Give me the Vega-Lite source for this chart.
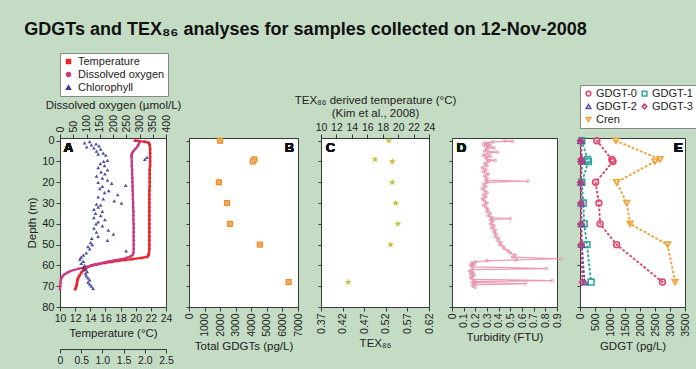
{
  "$schema": "https://vega.github.io/schema/vega-lite/v6.json",
  "background": "#c4dcc4",
  "padding": {"left": 24, "top": 21, "right": 4, "bottom": 0},
  "title": {"text": "GDGTs and TEX₈₆ analyses for samples collected on 12-Nov-2008", "anchor": "start", "font": "Liberation Sans", "fontSize": 18, "fontWeight": "bold", "color": "#111", "offset": 13, "dx": -2},
  "config": {
    "font": "Liberation Sans",
    "view": {"fill": "white", "stroke": "#3a3a3a", "strokeWidth": 1},
    "axis": {"domainColor": "#3a3a3a", "tickColor": "#3a3a3a", "labelColor": "#222", "titleColor": "#222", "labelFontSize": 10.5, "titleFontSize": 11.5, "titleFontWeight": "normal", "grid": false, "tickSize": 4, "labelPadding": 2, "titlePadding": 4, "labelOverlap": false, "labelBound": false, "labelFlush": false},
    "legend": {"labelFontSize": 10.5, "labelColor": "#222", "fillColor": "white", "strokeColor": "#888", "padding": 4, "rowPadding": 1, "symbolStrokeWidth": 1.5}
  },
  "bounds": "flush",
  "spacing": 23,
  "resolve": {"scale": {"color": "independent", "shape": "independent"}, "legend": {"color": "independent", "shape": "independent"}},
  "datasets": {
    "A": [
      {"series": "Temperature", "depth": 0, "value": 19.9},
      {"series": "Temperature", "depth": 0.5, "value": 21.2},
      {"series": "Temperature", "depth": 1, "value": 21.7},
      {"series": "Temperature", "depth": 2, "value": 21.85},
      {"series": "Temperature", "depth": 4, "value": 21.9},
      {"series": "Temperature", "depth": 6, "value": 21.9},
      {"series": "Temperature", "depth": 8, "value": 21.9},
      {"series": "Temperature", "depth": 10, "value": 21.9},
      {"series": "Temperature", "depth": 12, "value": 21.9},
      {"series": "Temperature", "depth": 14, "value": 21.85},
      {"series": "Temperature", "depth": 16, "value": 21.85},
      {"series": "Temperature", "depth": 18, "value": 21.85},
      {"series": "Temperature", "depth": 20, "value": 21.85},
      {"series": "Temperature", "depth": 22, "value": 21.85},
      {"series": "Temperature", "depth": 24, "value": 21.8},
      {"series": "Temperature", "depth": 26, "value": 21.8},
      {"series": "Temperature", "depth": 28, "value": 21.8},
      {"series": "Temperature", "depth": 30, "value": 21.8},
      {"series": "Temperature", "depth": 32, "value": 21.8},
      {"series": "Temperature", "depth": 34, "value": 21.8},
      {"series": "Temperature", "depth": 36, "value": 21.8},
      {"series": "Temperature", "depth": 38, "value": 21.8},
      {"series": "Temperature", "depth": 40, "value": 21.8},
      {"series": "Temperature", "depth": 42, "value": 21.8},
      {"series": "Temperature", "depth": 44, "value": 21.8},
      {"series": "Temperature", "depth": 46, "value": 21.8},
      {"series": "Temperature", "depth": 48, "value": 21.8},
      {"series": "Temperature", "depth": 50, "value": 21.8},
      {"series": "Temperature", "depth": 52, "value": 21.8},
      {"series": "Temperature", "depth": 54, "value": 21.75},
      {"series": "Temperature", "depth": 55, "value": 21.7},
      {"series": "Temperature", "depth": 55.9, "value": 21.5},
      {"series": "Temperature", "depth": 56.4, "value": 20.8},
      {"series": "Temperature", "depth": 57, "value": 19.5},
      {"series": "Temperature", "depth": 57.4, "value": 18.6},
      {"series": "Temperature", "depth": 57.8, "value": 17.7},
      {"series": "Temperature", "depth": 58.3, "value": 16.8},
      {"series": "Temperature", "depth": 58.8, "value": 16.0},
      {"series": "Temperature", "depth": 59.2, "value": 15.2},
      {"series": "Temperature", "depth": 59.6, "value": 14.6},
      {"series": "Temperature", "depth": 60.1, "value": 14.1},
      {"series": "Temperature", "depth": 60.7, "value": 13.7},
      {"series": "Temperature", "depth": 61.5, "value": 13.4},
      {"series": "Temperature", "depth": 62.3, "value": 13.1},
      {"series": "Temperature", "depth": 63.5, "value": 12.8},
      {"series": "Temperature", "depth": 64.7, "value": 12.6},
      {"series": "Temperature", "depth": 66, "value": 12.4},
      {"series": "Temperature", "depth": 67.1, "value": 12.3},
      {"series": "Temperature", "depth": 68.3, "value": 12.25},
      {"series": "Temperature", "depth": 69.5, "value": 12.2},
      {"series": "Temperature", "depth": 70.5, "value": 12.1},
      {"series": "Temperature", "depth": 71.5, "value": 12.0},
      {"series": "Dissolved oxygen", "depth": 0, "value": 296},
      {"series": "Dissolved oxygen", "depth": 0.5, "value": 300},
      {"series": "Dissolved oxygen", "depth": 1, "value": 299},
      {"series": "Dissolved oxygen", "depth": 2, "value": 296},
      {"series": "Dissolved oxygen", "depth": 3, "value": 291},
      {"series": "Dissolved oxygen", "depth": 4, "value": 284},
      {"series": "Dissolved oxygen", "depth": 5, "value": 277},
      {"series": "Dissolved oxygen", "depth": 6, "value": 272},
      {"series": "Dissolved oxygen", "depth": 7, "value": 270},
      {"series": "Dissolved oxygen", "depth": 8, "value": 270},
      {"series": "Dissolved oxygen", "depth": 10, "value": 271},
      {"series": "Dissolved oxygen", "depth": 12, "value": 271},
      {"series": "Dissolved oxygen", "depth": 14, "value": 272},
      {"series": "Dissolved oxygen", "depth": 16, "value": 272},
      {"series": "Dissolved oxygen", "depth": 18, "value": 273},
      {"series": "Dissolved oxygen", "depth": 20, "value": 273},
      {"series": "Dissolved oxygen", "depth": 22, "value": 274},
      {"series": "Dissolved oxygen", "depth": 24, "value": 274},
      {"series": "Dissolved oxygen", "depth": 26, "value": 275},
      {"series": "Dissolved oxygen", "depth": 28, "value": 275},
      {"series": "Dissolved oxygen", "depth": 30, "value": 276},
      {"series": "Dissolved oxygen", "depth": 32, "value": 276},
      {"series": "Dissolved oxygen", "depth": 34, "value": 277},
      {"series": "Dissolved oxygen", "depth": 36, "value": 277},
      {"series": "Dissolved oxygen", "depth": 38, "value": 277},
      {"series": "Dissolved oxygen", "depth": 40, "value": 278},
      {"series": "Dissolved oxygen", "depth": 42, "value": 278},
      {"series": "Dissolved oxygen", "depth": 44, "value": 278},
      {"series": "Dissolved oxygen", "depth": 46, "value": 278},
      {"series": "Dissolved oxygen", "depth": 48, "value": 278},
      {"series": "Dissolved oxygen", "depth": 50, "value": 278},
      {"series": "Dissolved oxygen", "depth": 52, "value": 278},
      {"series": "Dissolved oxygen", "depth": 54, "value": 277},
      {"series": "Dissolved oxygen", "depth": 55, "value": 274},
      {"series": "Dissolved oxygen", "depth": 55.7, "value": 266},
      {"series": "Dissolved oxygen", "depth": 56.3, "value": 252},
      {"series": "Dissolved oxygen", "depth": 57, "value": 232},
      {"series": "Dissolved oxygen", "depth": 57.6, "value": 205},
      {"series": "Dissolved oxygen", "depth": 58.2, "value": 182},
      {"series": "Dissolved oxygen", "depth": 58.8, "value": 162},
      {"series": "Dissolved oxygen", "depth": 59.5, "value": 142},
      {"series": "Dissolved oxygen", "depth": 60.2, "value": 118},
      {"series": "Dissolved oxygen", "depth": 61, "value": 92},
      {"series": "Dissolved oxygen", "depth": 61.6, "value": 70},
      {"series": "Dissolved oxygen", "depth": 62.2, "value": 53},
      {"series": "Dissolved oxygen", "depth": 62.8, "value": 38},
      {"series": "Dissolved oxygen", "depth": 63.5, "value": 27},
      {"series": "Dissolved oxygen", "depth": 64.3, "value": 17},
      {"series": "Dissolved oxygen", "depth": 65, "value": 11},
      {"series": "Dissolved oxygen", "depth": 66, "value": 6},
      {"series": "Dissolved oxygen", "depth": 67, "value": 3},
      {"series": "Dissolved oxygen", "depth": 68.5, "value": 2},
      {"series": "Dissolved oxygen", "depth": 70, "value": 1},
      {"series": "Dissolved oxygen", "depth": 71.5, "value": 0},
      {"series": "Chlorophyll", "depth": 0.5, "value": 0.7},
      {"series": "Chlorophyll", "depth": 1, "value": 0.58},
      {"series": "Chlorophyll", "depth": 1.5, "value": 0.85},
      {"series": "Chlorophyll", "depth": 2, "value": 0.74},
      {"series": "Chlorophyll", "depth": 2.5, "value": 0.92},
      {"series": "Chlorophyll", "depth": 3, "value": 0.63},
      {"series": "Chlorophyll", "depth": 3.5, "value": 0.8},
      {"series": "Chlorophyll", "depth": 4, "value": 0.96},
      {"series": "Chlorophyll", "depth": 5, "value": 0.86},
      {"series": "Chlorophyll", "depth": 6, "value": 1.02},
      {"series": "Chlorophyll", "depth": 6.5, "value": 0.9},
      {"series": "Chlorophyll", "depth": 7, "value": 1.08},
      {"series": "Chlorophyll", "depth": 8, "value": 2.05},
      {"series": "Chlorophyll", "depth": 9, "value": 2.0},
      {"series": "Chlorophyll", "depth": 9.5, "value": 1.12},
      {"series": "Chlorophyll", "depth": 10, "value": 1.03},
      {"series": "Chlorophyll", "depth": 11, "value": 0.95},
      {"series": "Chlorophyll", "depth": 12, "value": 1.05},
      {"series": "Chlorophyll", "depth": 13, "value": 0.9},
      {"series": "Chlorophyll", "depth": 14, "value": 1.12},
      {"series": "Chlorophyll", "depth": 15, "value": 0.97},
      {"series": "Chlorophyll", "depth": 16, "value": 1.06},
      {"series": "Chlorophyll", "depth": 17, "value": 0.86},
      {"series": "Chlorophyll", "depth": 18, "value": 1.0},
      {"series": "Chlorophyll", "depth": 19, "value": 1.12},
      {"series": "Chlorophyll", "depth": 20, "value": 0.9},
      {"series": "Chlorophyll", "depth": 20.5, "value": 1.22},
      {"series": "Chlorophyll", "depth": 21.5, "value": 1.55},
      {"series": "Chlorophyll", "depth": 22, "value": 1.0},
      {"series": "Chlorophyll", "depth": 23, "value": 0.94},
      {"series": "Chlorophyll", "depth": 24, "value": 1.15},
      {"series": "Chlorophyll", "depth": 25, "value": 1.05},
      {"series": "Chlorophyll", "depth": 26, "value": 1.36},
      {"series": "Chlorophyll", "depth": 27, "value": 0.9},
      {"series": "Chlorophyll", "depth": 28, "value": 1.02},
      {"series": "Chlorophyll", "depth": 29, "value": 1.28},
      {"series": "Chlorophyll", "depth": 30, "value": 1.45},
      {"series": "Chlorophyll", "depth": 30.5, "value": 0.86},
      {"series": "Chlorophyll", "depth": 31, "value": 0.96},
      {"series": "Chlorophyll", "depth": 32, "value": 0.9},
      {"series": "Chlorophyll", "depth": 33, "value": 0.8},
      {"series": "Chlorophyll", "depth": 34, "value": 1.0},
      {"series": "Chlorophyll", "depth": 35, "value": 0.84},
      {"series": "Chlorophyll", "depth": 36, "value": 0.96},
      {"series": "Chlorophyll", "depth": 37, "value": 0.8},
      {"series": "Chlorophyll", "depth": 38, "value": 1.06},
      {"series": "Chlorophyll", "depth": 39, "value": 0.9},
      {"series": "Chlorophyll", "depth": 40, "value": 0.85},
      {"series": "Chlorophyll", "depth": 41, "value": 1.0},
      {"series": "Chlorophyll", "depth": 42, "value": 0.8},
      {"series": "Chlorophyll", "depth": 43, "value": 1.14},
      {"series": "Chlorophyll", "depth": 44, "value": 0.86},
      {"series": "Chlorophyll", "depth": 45, "value": 1.26},
      {"series": "Chlorophyll", "depth": 46, "value": 0.9},
      {"series": "Chlorophyll", "depth": 47, "value": 0.75},
      {"series": "Chlorophyll", "depth": 48, "value": 1.12},
      {"series": "Chlorophyll", "depth": 49, "value": 0.72},
      {"series": "Chlorophyll", "depth": 50, "value": 0.76},
      {"series": "Chlorophyll", "depth": 51, "value": 0.66},
      {"series": "Chlorophyll", "depth": 52, "value": 0.7},
      {"series": "Chlorophyll", "depth": 53, "value": 1.56},
      {"series": "Chlorophyll", "depth": 54, "value": 0.62},
      {"series": "Chlorophyll", "depth": 55, "value": 0.55},
      {"series": "Chlorophyll", "depth": 56, "value": 0.5},
      {"series": "Chlorophyll", "depth": 57, "value": 0.47},
      {"series": "Chlorophyll", "depth": 58, "value": 0.55},
      {"series": "Chlorophyll", "depth": 59, "value": 0.5},
      {"series": "Chlorophyll", "depth": 60, "value": 0.58},
      {"series": "Chlorophyll", "depth": 61, "value": 0.55},
      {"series": "Chlorophyll", "depth": 62, "value": 0.6},
      {"series": "Chlorophyll", "depth": 63, "value": 0.64},
      {"series": "Chlorophyll", "depth": 64, "value": 0.6},
      {"series": "Chlorophyll", "depth": 65, "value": 0.62},
      {"series": "Chlorophyll", "depth": 66, "value": 0.66},
      {"series": "Chlorophyll", "depth": 67, "value": 0.7},
      {"series": "Chlorophyll", "depth": 68, "value": 0.66},
      {"series": "Chlorophyll", "depth": 69, "value": 0.7},
      {"series": "Chlorophyll", "depth": 70, "value": 0.74},
      {"series": "Chlorophyll", "depth": 71, "value": 0.78}
    ],
    "B": [
      {"depth": 0, "gdgt": 2000},
      {"depth": 9, "gdgt": 4200},
      {"depth": 10, "gdgt": 4100},
      {"depth": 20, "gdgt": 1920},
      {"depth": 30, "gdgt": 2440},
      {"depth": 40, "gdgt": 2630},
      {"depth": 50, "gdgt": 4550},
      {"depth": 68, "gdgt": 6400}
    ],
    "C": [
      {"depth": 0, "tex": 0.527},
      {"depth": 9, "tex": 0.495},
      {"depth": 10, "tex": 0.535},
      {"depth": 20, "tex": 0.535},
      {"depth": 30, "tex": 0.543},
      {"depth": 40, "tex": 0.548},
      {"depth": 50, "tex": 0.531},
      {"depth": 68, "tex": 0.433}
    ],
    "D": [
      {"depth": 0, "turb": 0.45}, {"depth": 0.3, "turb": 0.52}, {"depth": 0.6, "turb": 0.35},
      {"depth": 1, "turb": 0.28}, {"depth": 1.5, "turb": 0.32}, {"depth": 2, "turb": 0.27},
      {"depth": 2.5, "turb": 0.33}, {"depth": 3, "turb": 0.29}, {"depth": 3.5, "turb": 0.36},
      {"depth": 4, "turb": 0.3}, {"depth": 5, "turb": 0.28}, {"depth": 5.5, "turb": 0.39},
      {"depth": 6, "turb": 0.31}, {"depth": 7, "turb": 0.27}, {"depth": 7.5, "turb": 0.33},
      {"depth": 8, "turb": 0.29}, {"depth": 9, "turb": 0.3}, {"depth": 9.5, "turb": 0.37},
      {"depth": 10, "turb": 0.31}, {"depth": 11, "turb": 0.28}, {"depth": 12, "turb": 0.3},
      {"depth": 13, "turb": 0.26}, {"depth": 14, "turb": 0.29}, {"depth": 15, "turb": 0.27},
      {"depth": 16, "turb": 0.31}, {"depth": 17, "turb": 0.28}, {"depth": 18, "turb": 0.3},
      {"depth": 19, "turb": 0.29}, {"depth": 19.5, "turb": 0.65}, {"depth": 20, "turb": 0.3},
      {"depth": 21, "turb": 0.27}, {"depth": 22, "turb": 0.29}, {"depth": 23, "turb": 0.26},
      {"depth": 24, "turb": 0.28}, {"depth": 25, "turb": 0.3}, {"depth": 26, "turb": 0.27},
      {"depth": 27, "turb": 0.29}, {"depth": 28, "turb": 0.26}, {"depth": 29, "turb": 0.28},
      {"depth": 30, "turb": 0.3}, {"depth": 31, "turb": 0.27}, {"depth": 32, "turb": 0.29},
      {"depth": 33, "turb": 0.31}, {"depth": 34, "turb": 0.3}, {"depth": 35, "turb": 0.33},
      {"depth": 36, "turb": 0.31}, {"depth": 37, "turb": 0.34}, {"depth": 37.5, "turb": 0.5},
      {"depth": 38, "turb": 0.33}, {"depth": 39, "turb": 0.35}, {"depth": 40, "turb": 0.33},
      {"depth": 41, "turb": 0.36}, {"depth": 42, "turb": 0.34}, {"depth": 43, "turb": 0.37},
      {"depth": 44, "turb": 0.36}, {"depth": 45, "turb": 0.38}, {"depth": 46, "turb": 0.37},
      {"depth": 47, "turb": 0.4}, {"depth": 48, "turb": 0.39}, {"depth": 49, "turb": 0.42},
      {"depth": 50, "turb": 0.41}, {"depth": 51, "turb": 0.44}, {"depth": 52, "turb": 0.45},
      {"depth": 53, "turb": 0.48}, {"depth": 54, "turb": 0.5}, {"depth": 55, "turb": 0.54},
      {"depth": 56, "turb": 0.52}, {"depth": 56.8, "turb": 0.93}, {"depth": 57.3, "turb": 0.55},
      {"depth": 57.8, "turb": 0.3}, {"depth": 58.3, "turb": 0.2}, {"depth": 58.8, "turb": 0.17},
      {"depth": 59.4, "turb": 0.19}, {"depth": 60, "turb": 0.16}, {"depth": 60.7, "turb": 0.18},
      {"depth": 61.5, "turb": 0.81}, {"depth": 62, "turb": 0.17}, {"depth": 62.7, "turb": 0.15},
      {"depth": 63.4, "turb": 0.18}, {"depth": 64, "turb": 0.16}, {"depth": 64.7, "turb": 0.19},
      {"depth": 65.3, "turb": 0.17}, {"depth": 66, "turb": 0.16}, {"depth": 66.7, "turb": 0.18},
      {"depth": 67.3, "turb": 0.86}, {"depth": 67.8, "turb": 0.2}, {"depth": 68.3, "turb": 0.17},
      {"depth": 68.8, "turb": 0.63}, {"depth": 69.3, "turb": 0.19}, {"depth": 69.9, "turb": 0.18},
      {"depth": 70.5, "turb": 0.2}
    ],
    "E": [
      {"series": "GDGT-0", "depth": 0, "value": 560},
      {"series": "GDGT-0", "depth": 9, "value": 1060},
      {"series": "GDGT-0", "depth": 10, "value": 1100},
      {"series": "GDGT-0", "depth": 20, "value": 520},
      {"series": "GDGT-0", "depth": 30, "value": 630},
      {"series": "GDGT-0", "depth": 40, "value": 670},
      {"series": "GDGT-0", "depth": 50, "value": 1220},
      {"series": "GDGT-0", "depth": 68, "value": 2750},
      {"series": "GDGT-1", "depth": 0, "value": 60},
      {"series": "GDGT-1", "depth": 9, "value": 250},
      {"series": "GDGT-1", "depth": 10, "value": 280},
      {"series": "GDGT-1", "depth": 20, "value": 60},
      {"series": "GDGT-1", "depth": 30, "value": 110},
      {"series": "GDGT-1", "depth": 40, "value": 140},
      {"series": "GDGT-1", "depth": 50, "value": 230},
      {"series": "GDGT-1", "depth": 68, "value": 370},
      {"series": "GDGT-2", "depth": 0, "value": 30},
      {"series": "GDGT-2", "depth": 9, "value": 60},
      {"series": "GDGT-2", "depth": 10, "value": 70},
      {"series": "GDGT-2", "depth": 20, "value": 30},
      {"series": "GDGT-2", "depth": 30, "value": 40},
      {"series": "GDGT-2", "depth": 40, "value": 50},
      {"series": "GDGT-2", "depth": 50, "value": 60},
      {"series": "GDGT-2", "depth": 68, "value": 150},
      {"series": "GDGT-3", "depth": 0, "value": 20},
      {"series": "GDGT-3", "depth": 9, "value": 40},
      {"series": "GDGT-3", "depth": 10, "value": 40},
      {"series": "GDGT-3", "depth": 20, "value": 20},
      {"series": "GDGT-3", "depth": 30, "value": 30},
      {"series": "GDGT-3", "depth": 40, "value": 30},
      {"series": "GDGT-3", "depth": 50, "value": 40},
      {"series": "GDGT-3", "depth": 68, "value": 80},
      {"series": "Cren", "depth": 0, "value": 1200},
      {"series": "Cren", "depth": 9, "value": 2670},
      {"series": "Cren", "depth": 10, "value": 2500},
      {"series": "Cren", "depth": 20, "value": 1220},
      {"series": "Cren", "depth": 30, "value": 1560},
      {"series": "Cren", "depth": 40, "value": 1670},
      {"series": "Cren", "depth": 50, "value": 2920},
      {"series": "Cren", "depth": 68, "value": 3170}
    ]
  },
  "hconcat": [
    {
      "width": 106, "height": 169,
      "data": {"name": "A"},
      "resolve": {"scale": {"x": "independent"}, "axis": {"x": "independent"}},
      "layer": [
        {
          "transform": [{"filter": "datum.series === 'Temperature'"}],
          "mark": {"type": "line", "strokeWidth": 2.2, "point": {"shape": "square", "filled": true, "size": 7}},
          "encoding": {
            "x": {"field": "value", "type": "quantitative", "scale": {"domain": [10, 24], "nice": false, "zero": false}, "axis": {"orient": "bottom", "values": [10, 12, 14, 16, 18, 20, 22, 24], "title": "Temperature (°C)"}},
            "y": {"field": "depth", "type": "quantitative", "scale": {"domain": [-1.3, 80], "reverse": true, "nice": false, "zero": false}, "axis": {"values": [0, 10, 20, 30, 40, 50, 60, 70, 80], "title": "Depth (m)", "labelFontSize": 11}},
            "order": {"field": "depth", "type": "quantitative"},
            "color": {"field": "series", "type": "nominal", "scale": {"domain": ["Temperature", "Dissolved oxygen", "Chlorophyll"], "range": ["#e8262c", "#cc3a7e", "#3a3a92"]}, "legend": {"orient": "none", "legendX": 0, "legendY": -85, "title": null, "symbolSize": 16, "labelFontSize": 11, "padding": 3}},
            "shape": {"field": "series", "type": "nominal", "scale": {"domain": ["Temperature", "Dissolved oxygen", "Chlorophyll"], "range": ["square", "circle", "triangle-up"]}, "legend": {"orient": "none", "legendX": 0, "legendY": -85, "title": null, "symbolSize": 16, "labelFontSize": 11, "padding": 3}}
          }
        },
        {
          "transform": [{"filter": "datum.series === 'Dissolved oxygen'"}],
          "mark": {"type": "line", "strokeWidth": 2.2, "point": {"filled": true, "size": 7}},
          "encoding": {
            "x": {"field": "value", "type": "quantitative", "scale": {"domain": [0, 400], "nice": false, "zero": false}, "axis": {"orient": "top", "values": [0, 50, 100, 150, 200, 250, 300, 350, 400], "labelAngle": -90, "title": "Dissolved oxygen (µmol/L)"}},
            "y": {"field": "depth", "type": "quantitative", "scale": {"domain": [-1.3, 80], "reverse": true, "nice": false, "zero": false}, "axis": {"values": [0, 10, 20, 30, 40, 50, 60, 70, 80], "title": "Depth (m)", "labelFontSize": 11}},
            "order": {"field": "depth", "type": "quantitative"},
            "color": {"field": "series", "type": "nominal", "scale": {"domain": ["Temperature", "Dissolved oxygen", "Chlorophyll"], "range": ["#e8262c", "#cc3a7e", "#3a3a92"]}},
            "shape": {"field": "series", "type": "nominal", "scale": {"domain": ["Temperature", "Dissolved oxygen", "Chlorophyll"], "range": ["square", "circle", "triangle-up"]}}
          }
        },
        {
          "transform": [{"filter": "datum.series === 'Chlorophyll'"}],
          "mark": {"type": "point", "filled": true, "size": 14, "opacity": 0.9},
          "encoding": {
            "x": {"field": "value", "type": "quantitative", "scale": {"domain": [0, 2.5], "nice": false, "zero": false}, "axis": {"orient": "bottom", "offset": 42, "values": [0, 0.5, 1, 1.5, 2, 2.5], "labelExpr": "datum.value === 0 ? '0' : format(datum.value, '.1f')", "title": "Chl-a (µg/L)"}},
            "y": {"field": "depth", "type": "quantitative", "scale": {"domain": [-1.3, 80], "reverse": true, "nice": false, "zero": false}, "axis": {"values": [0, 10, 20, 30, 40, 50, 60, 70, 80], "title": "Depth (m)", "labelFontSize": 11}},
            "color": {"field": "series", "type": "nominal", "scale": {"domain": ["Temperature", "Dissolved oxygen", "Chlorophyll"], "range": ["#e8262c", "#cc3a7e", "#3a3a92"]}},
            "shape": {"field": "series", "type": "nominal", "scale": {"domain": ["Temperature", "Dissolved oxygen", "Chlorophyll"], "range": ["square", "circle", "triangle-up"]}}
          }
        },
        {
          "mark": {"type": "text", "text": "A", "fontWeight": "bold", "fontSize": 13, "align": "left", "baseline": "middle", "color": "#111"},
          "encoding": {
            "x": {"datum": 10.5, "type": "quantitative", "scale": {"domain": [10, 24], "nice": false, "zero": false}, "axis": null},
            "y": {"datum": 3.5, "type": "quantitative", "scale": {"domain": [-1.3, 80], "reverse": true, "nice": false, "zero": false}, "axis": {"values": [0, 10, 20, 30, 40, 50, 60, 70, 80], "title": "Depth (m)", "labelFontSize": 11}}
          }
        }
      ]
    },
    {
      "width": 109, "height": 169,
      "data": {"name": "B"},
      "layer": [
        {
          "mark": {"type": "point", "shape": "square", "filled": true, "size": 38, "color": "#f08c28", "opacity": 1},
          "encoding": {
            "x": {"field": "gdgt", "type": "quantitative", "scale": {"domain": [0, 7000], "nice": false}, "axis": {"values": [0, 1000, 2000, 3000, 4000, 5000, 6000, 7000], "labelAngle": -90, "title": "Total GDGTs (pg/L)", "format": "d"}},
            "y": {"field": "depth", "type": "quantitative", "scale": {"domain": [-1.3, 80], "reverse": true, "nice": false, "zero": false}, "axis": {"values": [0, 10, 20, 30, 40, 50, 60, 70, 80], "labels": false, "title": null, "tickSize": 3}}
          }
        },
        {
          "mark": {"type": "point", "shape": "M-1,-1L1,1M1,-1L-1,1", "filled": false, "size": 14, "color": "#fde2b8", "strokeWidth": 1, "opacity": 0.8},
          "encoding": {
            "x": {"field": "gdgt", "type": "quantitative", "scale": {"domain": [0, 7000], "nice": false}, "axis": {"values": [0, 1000, 2000, 3000, 4000, 5000, 6000, 7000], "labelAngle": -90, "title": "Total GDGTs (pg/L)", "format": "d"}},
            "y": {"field": "depth", "type": "quantitative", "scale": {"domain": [-1.3, 80], "reverse": true, "nice": false, "zero": false}, "axis": {"values": [0, 10, 20, 30, 40, 50, 60, 70, 80], "labels": false, "title": null, "tickSize": 3}}
          }
        },
        {
          "mark": {"type": "text", "text": "B", "fontWeight": "bold", "fontSize": 13, "align": "right", "baseline": "middle", "color": "#111"},
          "encoding": {
            "x": {"datum": 6750, "type": "quantitative", "scale": {"domain": [0, 7000], "nice": false}, "axis": {"values": [0, 1000, 2000, 3000, 4000, 5000, 6000, 7000], "labelAngle": -90, "title": "Total GDGTs (pg/L)", "format": "d"}},
            "y": {"datum": 3.5, "type": "quantitative", "scale": {"domain": [-1.3, 80], "reverse": true, "nice": false, "zero": false}, "axis": {"values": [0, 10, 20, 30, 40, 50, 60, 70, 80], "labels": false, "title": null, "tickSize": 3}}
          }
        }
      ]
    },
    {
      "width": 108, "height": 169,
      "data": {"name": "C"},
      "resolve": {"scale": {"x": "independent"}, "axis": {"x": "independent"}},
      "layer": [
        {
          "mark": {"type": "point", "shape": "M0,-1L0.22,-0.31L0.95,-0.31L0.36,0.12L0.59,0.81L0,0.38L-0.59,0.81L-0.36,0.12L-0.95,-0.31L-0.22,-0.31Z", "filled": true, "size": 55, "color": "#c2bf36", "opacity": 1},
          "encoding": {
            "x": {"field": "tex", "type": "quantitative", "scale": {"domain": [0.37, 0.62], "nice": false, "zero": false}, "axis": {"orient": "bottom", "values": [0.37, 0.42, 0.47, 0.52, 0.57, 0.62], "labelAngle": -90, "format": ".2f", "title": "TEX₈₆"}},
            "y": {"field": "depth", "type": "quantitative", "scale": {"domain": [-1.3, 80], "reverse": true, "nice": false, "zero": false}, "axis": {"values": [0, 10, 20, 30, 40, 50, 60, 70, 80], "labels": false, "title": null, "tickSize": 3}}
          }
        },
        {
          "mark": {"type": "text", "text": "C", "fontWeight": "bold", "fontSize": 13, "align": "left", "baseline": "middle", "color": "#111"},
          "encoding": {
            "x": {"datum": 10.6, "type": "quantitative", "scale": {"domain": [10, 24], "nice": false, "zero": false}, "axis": {"orient": "top", "values": [10, 12, 14, 16, 18, 20, 22, 24], "labelAngle": 0, "title": ["TEX₈₆ derived temperature (°C)", "(Kim et al., 2008)"], "titleLineHeight": 13}},
            "y": {"datum": 3.5, "type": "quantitative", "scale": {"domain": [-1.3, 80], "reverse": true, "nice": false, "zero": false}, "axis": {"values": [0, 10, 20, 30, 40, 50, 60, 70, 80], "labels": false, "title": null, "tickSize": 3}}
          }
        }
      ]
    },
    {
      "width": 105, "height": 169,
      "data": {"name": "D"},
      "layer": [
        {
          "mark": {"type": "line", "color": "#eb9ab2", "strokeWidth": 1.2, "point": {"filled": false, "size": 8, "color": "#e58aa6", "strokeWidth": 0.8}},
          "encoding": {
            "x": {"field": "turb", "type": "quantitative", "scale": {"domain": [0, 0.9], "nice": false, "zero": false}, "axis": {"values": [0, 0.1, 0.2, 0.3, 0.4, 0.5, 0.6, 0.7, 0.8, 0.9], "labelAngle": -90, "format": "~g", "title": "Turbidity (FTU)"}},
            "y": {"field": "depth", "type": "quantitative", "scale": {"domain": [-1.3, 80], "reverse": true, "nice": false, "zero": false}, "axis": {"values": [0, 10, 20, 30, 40, 50, 60, 70, 80], "labels": false, "title": null, "tickSize": 3}},
            "order": {"field": "depth", "type": "quantitative"}
          }
        },
        {
          "mark": {"type": "text", "text": "D", "fontWeight": "bold", "fontSize": 13, "align": "left", "baseline": "middle", "color": "#111"},
          "encoding": {
            "x": {"datum": 0.04, "type": "quantitative", "scale": {"domain": [0, 0.9], "nice": false, "zero": false}, "axis": {"values": [0, 0.1, 0.2, 0.3, 0.4, 0.5, 0.6, 0.7, 0.8, 0.9], "labelAngle": -90, "format": "~g", "title": "Turbidity (FTU)"}},
            "y": {"datum": 3.5, "type": "quantitative", "scale": {"domain": [-1.3, 80], "reverse": true, "nice": false, "zero": false}, "axis": {"values": [0, 10, 20, 30, 40, 50, 60, 70, 80], "labels": false, "title": null, "tickSize": 3}}
          }
        }
      ]
    },
    {
      "width": 105, "height": 169,
      "data": {"name": "E"},
      "layer": [
        {
          "mark": {"type": "line", "strokeDash": [1, 3.5], "strokeWidth": 2, "strokeCap": "round", "point": {"filled": false, "size": 34, "strokeWidth": 1.6}},
          "encoding": {
            "x": {"field": "value", "type": "quantitative", "scale": {"domain": [0, 3500], "nice": false}, "axis": {"values": [0, 500, 1000, 1500, 2000, 2500, 3000, 3500], "labelAngle": -90, "format": "d", "title": "GDGT (pg/L)"}},
            "y": {"field": "depth", "type": "quantitative", "scale": {"domain": [-1.3, 80], "reverse": true, "nice": false, "zero": false}, "axis": {"values": [0, 10, 20, 30, 40, 50, 60, 70, 80], "labels": false, "title": null, "tickSize": 3}},
            "order": {"field": "depth", "type": "quantitative"},
            "color": {"field": "series", "type": "nominal", "scale": {"domain": ["GDGT-0", "GDGT-1", "GDGT-2", "GDGT-3", "Cren"], "range": ["#e2456c", "#2ea79a", "#5654a8", "#c8407a", "#f2a23a"]}, "legend": {"orient": "none", "legendX": 0, "legendY": -53, "title": null, "direction": "horizontal", "columns": 2, "columnPadding": 2, "symbolSize": 22, "labelFontSize": 11, "labelOffset": 2, "padding": 3}},
            "shape": {"field": "series", "type": "nominal", "scale": {"domain": ["GDGT-0", "GDGT-1", "GDGT-2", "GDGT-3", "Cren"], "range": ["circle", "square", "triangle-up", "diamond", "triangle-down"]}, "legend": {"orient": "none", "legendX": 0, "legendY": -53, "title": null, "direction": "horizontal", "columns": 2, "columnPadding": 2, "symbolSize": 22, "labelFontSize": 11, "labelOffset": 2, "padding": 3}}
          }
        },
        {
          "mark": {"type": "text", "text": "E", "fontWeight": "bold", "fontSize": 13, "align": "right", "baseline": "middle", "color": "#111"},
          "encoding": {
            "x": {"datum": 3420, "type": "quantitative", "scale": {"domain": [0, 3500], "nice": false}, "axis": {"values": [0, 500, 1000, 1500, 2000, 2500, 3000, 3500], "labelAngle": -90, "format": "d", "title": "GDGT (pg/L)"}},
            "y": {"datum": 3.5, "type": "quantitative", "scale": {"domain": [-1.3, 80], "reverse": true, "nice": false, "zero": false}, "axis": {"values": [0, 10, 20, 30, 40, 50, 60, 70, 80], "labels": false, "title": null, "tickSize": 3}}
          }
        }
      ]
    }
  ]
}
